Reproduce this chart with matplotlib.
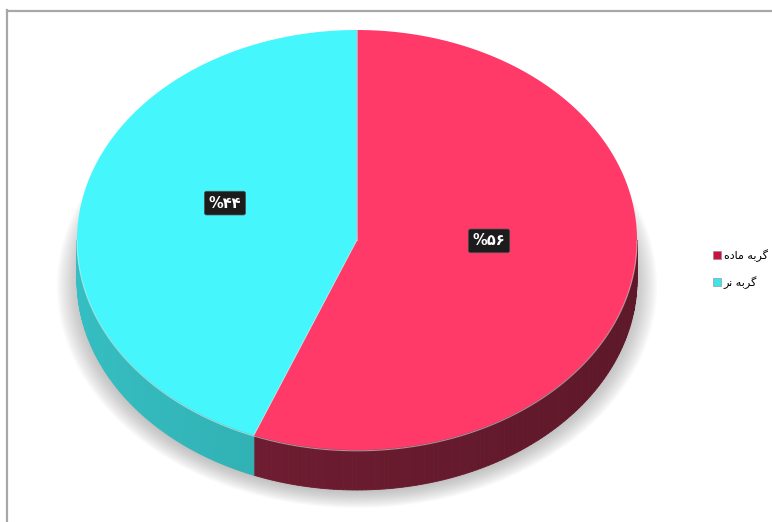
import numpy as np
import matplotlib
matplotlib.use("Agg")
import matplotlib.pyplot as plt
from matplotlib.patches import Polygon, Ellipse
from matplotlib.lines import Line2D

# ---- data ----
categories = ["گربه ماده", "گربه نر"]
values = [56, 44]
value_labels = ["%۵۶", "%۴۴"]
top_colors = ["#FF3A68", "#45F6FC"]
side_colors = ["#6A1B2F", "#2FAAAD"]
legend_colors = ["#C8123F", "#3FE3EA"]

plt.rcParams['font.family'] = ['DejaVu Sans']

# minimal Arabic/Persian shaping for display
FORMS = {
    'گ': ('\uFB92', '\uFB93', '\uFB94', '\uFB95'),
    'ر': ('\uFEAD', '\uFEAE', None, None),
    'ب': ('\uFE8F', '\uFE90', '\uFE91', '\uFE92'),
    'ه': ('\uFEE9', '\uFEEA', '\uFEEB', '\uFEEC'),
    'م': ('\uFEE1', '\uFEE2', '\uFEE3', '\uFEE4'),
    'ا': ('\uFE8D', '\uFE8E', None, None),
    'د': ('\uFEA9', '\uFEAA', None, None),
    'ن': ('\uFEE5', '\uFEE6', '\uFEE7', '\uFEE8'),
}

def joins_left(c):
    return c in FORMS and FORMS[c][2] is not None

def shape(s):
    out = []
    for i, c in enumerate(s):
        if c not in FORMS:
            out.append(c)
            continue
        prev = s[i - 1] if i > 0 else ' '
        nxt = s[i + 1] if i + 1 < len(s) else ' '
        jp = joins_left(prev)
        jn = joins_left(c) and nxt in FORMS
        iso, fin, ini, med = FORMS[c]
        if jp and jn:
            out.append(med)
        elif jp:
            out.append(fin)
        elif jn:
            out.append(ini)
        else:
            out.append(iso)
    return ''.join(reversed(out))

W, H = 772, 522
fig = plt.figure(figsize=(W / 100, H / 100), dpi=100)
ax = fig.add_axes([0, 0, 1, 1])
ax.set_xlim(0, W)
ax.set_ylim(H, 0)
ax.axis('off')

# frame lines
ax.plot([6.5, 6.5], [10, H], color='#A8A8A8', lw=1.6)
ax.plot([6.5, W], [10.5, 10.5], color='#A8A8A8', lw=1.6)

cx, cy, rx, ry, depth = 357, 240, 280, 210, 40

# shadow (soft)
n = 22
for k in range(n):
    s = 1.0 - k * 0.005
    ax.add_patch(Ellipse((cx, 286), 2 * 300 * s, 2 * 222 * s,
                         fc='#8A8A8A', ec='none', alpha=0.04, zorder=1))

def pt(theta_deg, dy=0.0):
    t = np.radians(theta_deg)
    return cx + rx * np.cos(t), cy - ry * np.sin(t) + dy

total = sum(values)
start = 90.0
angles = []
for v in values:
    end = start - 360.0 * v / total
    angles.append((start, end))
    start = end

# sides (front lower half only), shaded strips
for i, (a0, a1) in enumerate(angles):
    for off in (0, -360, 360):
        lo, hi = a1 + off, a0 + off
        l2, h2 = max(lo, -180), min(hi, 0)
        if h2 <= l2:
            continue
        ts = np.linspace(l2, h2, 120)
        base = np.array(matplotlib.colors.to_rgb(side_colors[i]))
        for j in range(len(ts) - 1):
            tm = 0.5 * (ts[j] + ts[j + 1])
            shade = 1.0 + 0.12 * np.cos(np.radians(tm - 180))
            col = np.clip(base * shade, 0, 1)
            p1 = pt(ts[j]); p2 = pt(ts[j + 1])
            q2 = pt(ts[j + 1], depth); q1 = pt(ts[j], depth)
            ax.add_patch(Polygon([p1, p2, q2, q1], closed=True, fc=col,
                                 ec=col, lw=0.6, zorder=3))

# top faces
for i, (a0, a1) in enumerate(angles):
    ts = np.linspace(a0, a1, 300)
    pts = [(cx, cy)] + [pt(t) for t in ts]
    ax.add_patch(Polygon(pts, closed=True, fc=top_colors[i], ec='none', zorder=4))

# light rim between top and side
ts = np.linspace(-180, 0, 300)
rim = np.array([pt(t) for t in ts])
ax.plot(rim[:, 0], rim[:, 1] + 0.8, color='#FFFFFF', lw=0.8, alpha=0.5, zorder=5)

# slice borders (thin light lines)
for (a0, a1) in angles:
    x, y = pt(a0)
    ax.plot([cx, x], [cy, y], color='#FFFFFF', lw=0.6, alpha=0.5, zorder=5)

# value labels
for i, (a0, a1) in enumerate(angles):
    mid = 0.5 * (a0 + a1)
    t = np.radians(mid)
    lx = cx + 0.48 * rx * np.cos(t)
    ly = cy - 0.48 * ry * np.sin(t) - 18
    ax.text(lx, ly, value_labels[i], color='white', fontsize=10.5, fontweight='bold',
            ha='center', va='center', zorder=7,
            bbox=dict(boxstyle='round,pad=0.3,rounding_size=0.15',
                      fc='#1C1C1C', ec='#555555', lw=0.5))

# legend
handles = [Line2D([], [], marker='s', ls='none', markersize=6,
                  markerfacecolor=legend_colors[i], markeredgecolor='#888888',
                  markeredgewidth=0.4, label=shape(categories[i]))
           for i in range(len(categories))]
leg = fig.legend(handles=handles, loc='center left',
                 bbox_to_anchor=(706 / W, 1 - 269 / H), frameon=False,
                 fontsize=8, labelspacing=1.25, handletextpad=0.1,
                 handlelength=1.0, borderpad=0)

fig.savefig('out.png', dpi=100, facecolor='white')
